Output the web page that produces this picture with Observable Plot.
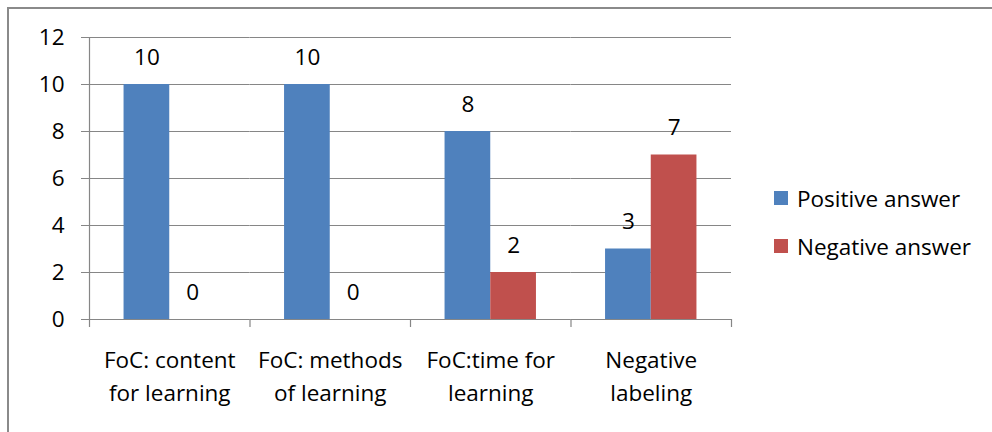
<!DOCTYPE html>
<html>
<head>
<meta charset="utf-8">
<script src="https://cdn.jsdelivr.net/npm/d3@7"></script>
<script src="https://cdn.jsdelivr.net/npm/@observablehq/plot@0.6"></script>
<style>
  body { margin: 0; background: #fff; }
  #chart { position: relative; width: 992px; height: 432px; overflow: hidden; background: #fff;
           font-family: "Open Sans", sans-serif; }
  #box { position: absolute; left: 7px; top: 7px; width: 1000px; height: 440px;
         border-left: 2px solid #8a8a8a; border-top: 2px solid #8a8a8a; }
  #plot { position: absolute; left: 0; top: 0; }
  #legend { position: absolute; left: 774px; top: 174px; font-size: 22.5px; color: #000; }
  .item { display: flex; align-items: center; height: 48px; white-space: nowrap; }
  .swatch { width: 14px; height: 14px; margin-right: 9px; }
</style>
</head>
<body>
<div id="chart">
  <div id="box"></div>
  <div id="plot"></div>
  <div id="legend"></div>
</div>
<script>
// Survey answers per topic
const categories = ["FoC: content for learning", "FoC: methods of learning", "FoC:time for learning", "Negative labeling"];
const categoryLabels = ["FoC: content\nfor learning", "FoC: methods\nof learning", "FoC:time for\nlearning", "Negative\nlabeling"];
const series = ["Positive answer", "Negative answer"];
const positive = [10, 10, 8, 3];
const negative = [0, 0, 2, 7];
const yTicks = [0, 2, 4, 6, 8, 10, 12];
const colors = ["#4F81BD", "#C0504D"];

const rows = categories.flatMap((category, i) => [
  {category, series: series[0], value: positive[i]},
  {category, series: series[1], value: negative[i]}
]);

// Layout
const W = 992, H = 432, ML = 89, MR = 261, MT = 37, MB = 113;
const outerPad = 0.756;
const gridColor = "#868686";
const fontSize = 22.5;
const facetW = (W - ML - MR) / categories.length;
const step = facetW / (series.length + 2 * outerPad);
const edge = step * outerPad + step / 2; // distance from a bar's centre to its group's edge

const chart = Plot.plot({
  width: W,
  height: H,
  marginLeft: ML,
  marginRight: MR,
  marginTop: MT,
  marginBottom: MB,
  style: {fontFamily: "'Open Sans', sans-serif", fontSize: `${fontSize}px`, color: "#000", background: "transparent", overflow: "visible"},
  fx: {domain: categories, padding: 0, round: false, axis: null, label: null},
  x: {domain: series, paddingInner: 0, paddingOuter: outerPad, round: false, axis: null, label: null},
  y: {domain: [0, 12], axis: null, label: null},
  color: {domain: series, range: colors},
  marks: [
    Plot.ruleY(yTicks, {stroke: gridColor, strokeWidth: 1.2, strokeOpacity: 1}),
    Plot.barY(rows, {fx: "category", x: "series", y: "value", fill: "series"}),
    Plot.text(rows, {fx: "category", x: "series", y: "value", text: d => String(d.value), dy: -27, lineAnchor: "middle", fill: "#000", fontSize}),
    Plot.axisY({ticks: yTicks, tickSize: 8, tickPadding: 17, stroke: gridColor, strokeOpacity: 1, fontSize, label: null}),
    Plot.axisFx({anchor: "bottom", tickSize: 0, tickPadding: 26, lineHeight: 1.43, fontSize, label: null,
                 tickFormat: d => categoryLabels[categories.indexOf(d)]}),
    // group separators below the baseline
    Plot.ruleX(categories, {fx: d => d, x: () => series[0], dx: -edge, y1: 0, y2: 0, insetBottom: -8, stroke: gridColor, strokeWidth: 1.2}),
    Plot.ruleX([categories[categories.length - 1]], {fx: d => d, x: () => series[1], dx: edge, y1: 0, y2: 0, insetBottom: -8, stroke: gridColor, strokeWidth: 1.2}),
    // vertical value axis line
    Plot.ruleX([categories[0]], {fx: d => d, x: () => series[0], dx: -edge, y1: 0, y2: 12, stroke: gridColor, strokeWidth: 1.2})
  ]
});
document.getElementById("plot").appendChild(chart);

const legend = document.getElementById("legend");
series.forEach((s, i) => {
  const item = document.createElement("div");
  item.className = "item";
  const sw = document.createElement("span");
  sw.className = "swatch";
  sw.style.background = colors[i];
  const label = document.createElement("span");
  label.textContent = s;
  item.appendChild(sw);
  item.appendChild(label);
  legend.appendChild(item);
});
</script>
</body>
</html>
